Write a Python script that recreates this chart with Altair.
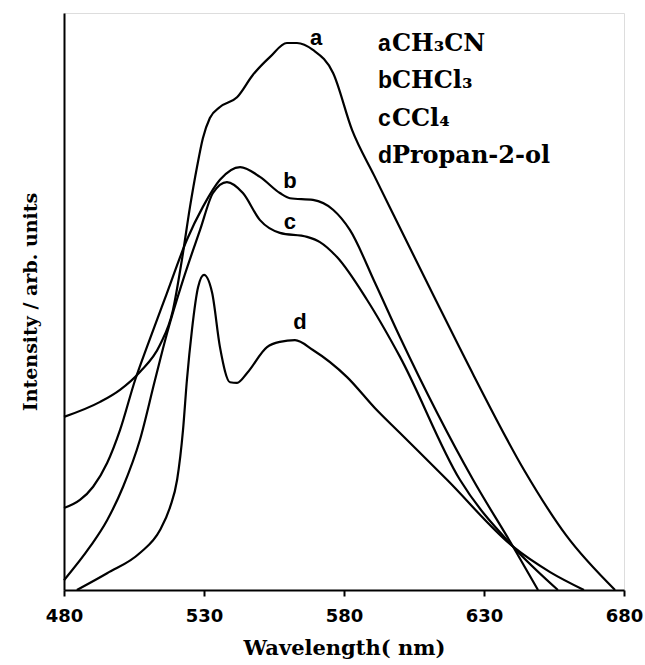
import altair as alt
import pandas as pd

# ---- data (wavelength in nm, intensity in arbitrary units) ----
wl_a = [480.0, 492.9, 500.0, 507.1, 514.3, 518.9, 522.1, 525.0, 527.5, 529.6, 532.1, 535.7,
        541.8, 547.5, 553.6, 559.6, 563.2, 568.9, 576.1, 582.9, 590.7, 597.9, 612.1, 626.4,
        644.3, 659.3, 676.8]
int_a = [30.0, 32.6, 34.7, 37.8, 42.5, 48.5, 57.2, 66.4, 73.3, 78.3, 81.8, 83.7,
         85.4, 89.3, 92.4, 94.8, 94.8, 93.6, 89.6, 79.7, 71.9, 64.8, 50.9, 37.1,
         20.8, 9.5, 0.0]

wl_b = [480.0, 485.7, 490.4, 495.4, 500.0, 505.4, 509.6, 516.8, 523.9, 529.6, 535.7, 542.9,
        550.0, 557.1, 560.7, 568.9, 576.1, 582.1, 591.1, 600.0, 626.1, 640.4, 649.3]
int_b = [14.2, 15.6, 17.9, 22.0, 27.7, 36.4, 42.1, 51.5, 60.7, 66.4, 71.1, 73.3,
         71.6, 68.8, 67.9, 67.6, 65.9, 62.4, 53.2, 43.8, 19.1, 7.5, 0.0]

wl_c = [480.0, 489.3, 495.4, 501.1, 507.1, 512.5, 516.8, 522.5, 528.6, 533.2, 538.2, 543.9,
        550.0, 557.1, 566.8, 571.4, 577.5, 588.2, 600.0, 621.4, 640.4, 656.4]
int_c = [1.7, 7.5, 12.1, 17.9, 26.0, 36.4, 44.5, 53.7, 62.4, 68.8, 70.7, 68.8,
         64.1, 61.9, 61.2, 60.3, 57.7, 50.3, 40.4, 19.1, 7.5, 0.0]

wl_d = [484.6, 495.4, 507.1, 514.3, 517.9, 520.4, 522.5, 523.9, 525.7, 527.9, 530.0, 532.9,
        535.7, 539.3, 541.8, 545.4, 552.5, 557.1, 562.5, 568.9, 581.1, 591.1, 600.0, 616.8,
        640.4, 653.6, 665.7]
int_d = [0.0, 2.9, 6.4, 10.4, 14.4, 19.1, 27.7, 36.4, 45.1, 52.5, 54.6, 51.5,
         42.1, 36.0, 35.9, 37.6, 42.1, 43.0, 43.3, 41.6, 36.9, 31.5, 27.2, 19.1,
         7.5, 3.1, 0.0]

curve_names = ["a", "b", "c", "d"]
solvents = ["CH\u2083CN", "CHCl\u2083", "CCl\u2084", "Propan-2-ol"]
x_ticks = [480, 530, 580, 630, 680]

# label positions for the curve letters
lab_wl = [570.0, 560.7, 560.7, 564.3]
lab_int = [95.7, 70.9, 63.8, 46.4]
# legend rows
leg_wl = 592.1
leg_letter_dx = 5.0
leg_int = [94.6, 88.2, 81.6, 75.2]

rows = []
for name, wl, it in zip(curve_names, [wl_a, wl_b, wl_c, wl_d], [int_a, int_b, int_c, int_d]):
    for i, (w, v) in enumerate(zip(wl, it)):
        rows.append({"curve": name, "wl": w, "I": v, "order": i})
df = pd.DataFrame(rows)

lab_df = pd.DataFrame({"curve": curve_names, "wl": lab_wl, "I": lab_int})
leg_df = pd.DataFrame({"letter": curve_names, "solvent": solvents,
                       "wl": [leg_wl] * 4,
                       "wl2": [leg_wl + leg_letter_dx] * 4,
                       "I": leg_int})

xs = alt.Scale(domain=[480, 680], nice=False)
ys = alt.Scale(domain=[0, 100], nice=False)

lines = alt.Chart(df).mark_line(color="black", strokeWidth=2.2, interpolate="monotone").encode(
    x=alt.X("wl:Q", scale=xs,
            axis=alt.Axis(values=x_ticks, title="Wavelength( nm)", grid=False,
                          domainColor="black", domainWidth=2, tickColor="black",
                          tickWidth=2, tickSize=6, labelFont="DejaVu Sans",
                          labelFontWeight="bold", labelFontSize=18, labelColor="black",
                          labelFlush=False, labelPadding=11,
                          titleFont="DejaVu Serif", titleFontWeight="bold",
                          titleFontSize=21, titleColor="black", titlePadding=12)),
    y=alt.Y("I:Q", scale=ys,
            axis=alt.Axis(title="Intensity / arb. units", grid=False, ticks=False,
                          labels=False, domainColor="black", domainWidth=2,
                          titleFont="DejaVu Serif", titleFontWeight="bold",
                          titleFontSize=19, titleColor="black", titlePadding=24)),
    detail="curve:N",
    order="order:Q",
)

labels = alt.Chart(lab_df).mark_text(font="Liberation Sans", fontWeight="bold", fontSize=22,
                                     color="black", baseline="middle", align="center").encode(
    x=alt.X("wl:Q", scale=xs), y=alt.Y("I:Q", scale=ys), text="curve:N")

leg_letters = alt.Chart(leg_df).mark_text(font="Liberation Sans", fontWeight="bold", fontSize=23,
                                          color="black", baseline="middle", align="left").encode(
    x=alt.X("wl:Q", scale=xs), y=alt.Y("I:Q", scale=ys), text="letter:N")

leg_text = alt.Chart(leg_df).mark_text(font="DejaVu Serif", fontWeight="bold", fontSize=24,
                                       color="black", baseline="middle", align="left").encode(
    x=alt.X("wl2:Q", scale=xs), y=alt.Y("I:Q", scale=ys), text="solvent:N")

chart = alt.layer(lines, labels, leg_letters, leg_text).properties(
    width=560, height=577,
    autosize=alt.AutoSizeParams(type="none"),
    padding={"left": 64, "top": 13, "right": 21, "bottom": 75},
).configure_view(stroke=None).configure(background="white")

chart.save("out.html", embed_options={"renderer": "svg", "actions": False})
